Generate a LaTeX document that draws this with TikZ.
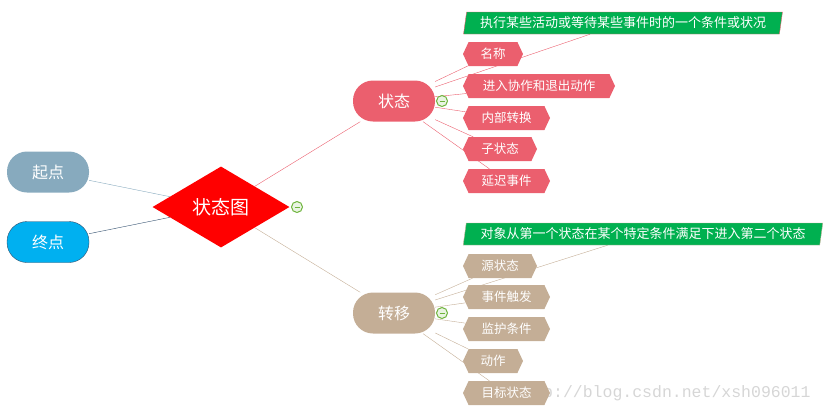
\documentclass[tikz,border=0pt]{standalone}
\usepackage{fontspec}
\newfontfamily\cjk{Noto Sans CJK SC}
\newfontfamily\wmfont{Liberation Mono}
\usepackage{xcolor}
\usetikzlibrary{shapes.geometric, shapes.symbols, backgrounds}

\definecolor{zhuangtai}{RGB}{235,95,110}
\definecolor{zhuanyi}{RGB}{196,174,150}
\definecolor{qidian}{RGB}{135,170,190}
\definecolor{zhongdian}{RGB}{0,176,240}
\definecolor{shenlan}{RGB}{50,80,110}
\definecolor{luse}{RGB}{0,176,80}
\definecolor{lvjian}{RGB}{110,180,60}

\tikzset{
    yuanjiao/.style={rounded corners=20pt, minimum width=82pt, minimum height=41pt,
        inner sep=0pt, text=white, font=\cjk\fontsize{16}{18}\selectfont},
    zijiedian/.style={signal, signal to=east and west, signal pointer angle=130,
        minimum height=24pt, inner sep=0pt, text=white, font=\cjk\fontsize{12.5}{14}\selectfont},
    shuoming/.style={trapezium, trapezium left angle=77, trapezium right angle=103,
        trapezium stretches=true, minimum height=22pt, inner sep=0pt, fill=luse,
        text=white, font=\cjk\fontsize{13}{15}\selectfont},
    jianhao/.style={circle, draw=lvjian, fill=lvjian!15, minimum size=11pt,
        inner sep=0pt, line width=1pt},
    lianxian/.style={line width=0.8pt}
}

\begin{document}
\begin{tikzpicture}[x=1pt, y=-1pt]
                \useasboundingbox (0,0) rectangle (825,416);
                % 1. 中心节点与起点、终点
                \node[diamond, fill=red, minimum width=137pt, minimum height=81pt, inner sep=0pt,
                    text=white, font=\cjk\fontsize{19}{21}\selectfont] (tu) at (221,207) {状态图};
                \node[yuanjiao, fill=qidian] (qd) at (48,172) {起点};
                \node[yuanjiao, fill=zhongdian, draw=shenlan] (zd) at (48,242) {终点};
                
                % 2. 状态分支
                \node[yuanjiao, fill=zhuangtai] (zt) at (394,101) {状态};
                \node[shuoming, draw=zhuangtai, minimum width=320pt] (sm1) at (623,23)
                    {执行某些活动或等待某些事件时的一个条件或状况};
                \foreach \t/\w/\y [count=\i] in {名称/60/54, 进入协作和退出动作/152/86,
                    内部转换/87/118, 子状态/74/149, 延迟事件/87/181} {
                    \node[zijiedian, fill=zhuangtai, minimum width=\w] (a\i) at (463+\w/2,\y) {\t};
                }
                
                % 3. 转移分支
                \node[yuanjiao, fill=zhuanyi] (zy) at (394,313) {转移};
                \node[shuoming, draw=zhuanyi, minimum width=360pt] (sm2) at (643,234)
                    {对象从第一个状态在某个特定条件满足下进入第二个状态};
                \foreach \t/\w/\y [count=\i] in {源状态/74/266, 事件触发/87/297,
                    监护条件/87/329, 动作/60/361, 目标状态/87/393} {
                    \node[zijiedian, fill=zhuanyi, minimum width=\w] (b\i) at (463+\w/2,\y) {\t};
                }
                
                % 4. 连线
                \begin{scope}[on background layer, lianxian]
                    \draw[qidian] (qd) -- (tu);
                    \draw[shenlan] (zd) -- (tu);
                    \draw[zhuangtai] (tu) -- (zt);
                    \draw[zhuanyi] (tu) -- (zy);
                    \draw[zhuangtai] (zt) -- (sm1);
                    \draw[zhuanyi] (zy) -- (sm2);
                    \foreach \i in {1,...,5} {
                        \draw[zhuangtai] (zt) -- (a\i);
                        \draw[zhuanyi] (zy) -- (b\i);
                    }
                    \node[anchor=base west, text=black!16, font=\wmfont\fontsize{16.5}{17}\selectfont]
                        (shuiyin) at (510,397) {http://blog.csdn.net/xsh096011};
                \end{scope}
                
                % 5. 折叠标记
                \foreach \n/\x/\y in {j1/297/207, j2/442/101, j3/442/313} {
                    \node[jianhao] (\n) at (\x,\y) {};
                    \draw[lvjian, line width=1pt] ([xshift=-2.5pt]\n.center) -- ([xshift=2.5pt]\n.center);
                }
            \end{tikzpicture}
\end{document}
